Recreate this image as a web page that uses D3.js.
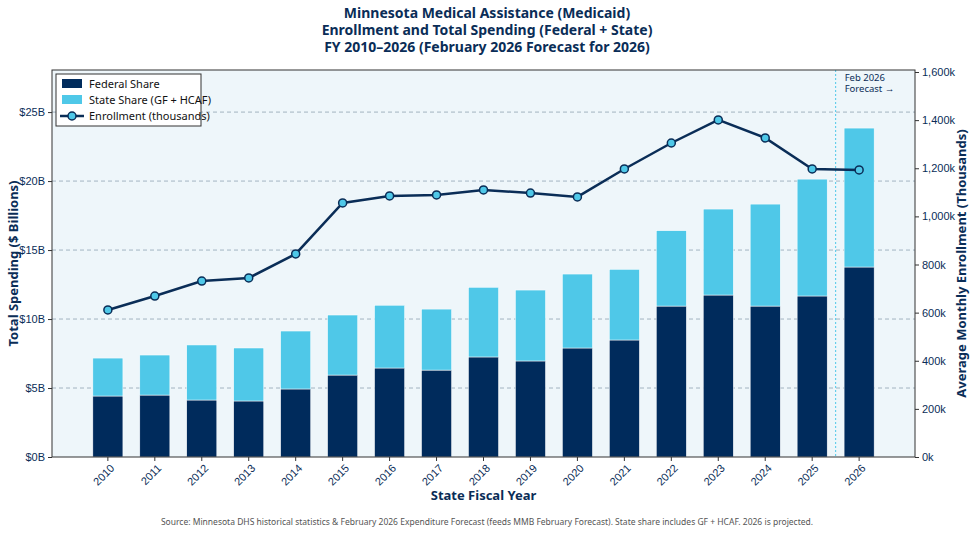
<!DOCTYPE html>
<html>
<head>
<script src="https://cdnjs.cloudflare.com/ajax/libs/d3/7.8.5/d3.min.js"></script>
<style>
  body { margin: 0; background: #fff; font-family: "Source Sans Pro", "Noto Sans", sans-serif; }
  .grid line { stroke: #8fa3b3; stroke-dasharray: 4 3; stroke-width: 0.8; }
  .axis text { fill: #0a2d57; font-size: 11px; }
  .axis path, .axis line { stroke: #333; }
</style>
</head>
<body>
<svg width="975" height="534"></svg>
<script>
var years = ["2010","2011","2012","2013","2014","2015","2016","2017","2018","2019","2020","2021","2022","2023","2024","2025","2026"];
var federal = [4.42,4.49,4.13,4.06,4.93,5.94,6.45,6.30,7.25,6.96,7.90,8.48,10.94,11.74,10.94,11.67,13.77];
var total   = [7.17,7.39,8.12,7.90,9.13,10.29,11.00,10.72,12.30,12.10,13.26,13.60,16.40,17.97,18.33,20.14,23.84];
var enrollment = [611,669,731,744,844,1056,1085,1089,1110,1097,1081,1197,1305,1401,1326,1197,1193];
var leftTicks = [0,5,10,15,20,25];
var rightTicks = [0,200,400,600,800,1000,1200,1400,1600];

var navy = "#002b5c", sky = "#4fc8e8", ink = "#0a2d57";
var svg = d3.select("svg");
var L = 52, R = 915, T = 70, B = 457;

var x = d3.scaleBand().domain(years).range([L, R]).paddingInner(0.36).paddingOuter(0.87);
var y = d3.scaleLinear().domain([0, 28.05]).range([B, T]);
var y2 = d3.scaleLinear().domain([0, 1600]).range([B, 72]);

svg.append("rect").attr("x", L).attr("y", T).attr("width", R - L).attr("height", B - T).attr("fill", "#eef6fa");

svg.append("g").attr("class", "grid").selectAll("line").data(leftTicks.slice(1)).join("line")
  .attr("x1", L).attr("x2", R).attr("y1", d => y(d)).attr("y2", d => y(d));

// bars
var g = svg.append("g");
g.selectAll(".fed").data(years).join("rect")
  .attr("x", d => x(d)).attr("width", x.bandwidth())
  .attr("y", (d, i) => y(federal[i])).attr("height", (d, i) => B - y(federal[i]))
  .attr("fill", navy).attr("stroke", "#fff").attr("stroke-width", 0.5);
g.selectAll(".st").data(years).join("rect")
  .attr("x", d => x(d)).attr("width", x.bandwidth())
  .attr("y", (d, i) => y(total[i])).attr("height", (d, i) => y(federal[i]) - y(total[i]))
  .attr("fill", sky).attr("stroke", "#fff").attr("stroke-width", 0.5);

// forecast divider
var fx = (x("2025") + x.bandwidth() + x("2026")) / 2;
svg.append("line").attr("x1", fx).attr("x2", fx).attr("y1", T).attr("y2", B)
  .attr("stroke", "#4fc8e8").attr("stroke-dasharray", "2 2");
svg.append("text").attr("x", fx + 9).attr("y", 81).attr("fill", ink).attr("font-size", 9.5).text("Feb 2026");
svg.append("text").attr("x", fx + 9).attr("y", 92).attr("fill", ink).attr("font-size", 9.5).text("Forecast →");

// line
var cx = d => x(d) + x.bandwidth() / 2;
svg.append("path").datum(years)
  .attr("d", d3.line().x(cx).y((d, i) => y2(enrollment[i])))
  .attr("fill", "none").attr("stroke", ink).attr("stroke-width", 2.5);
svg.selectAll(".pt").data(years).join("circle")
  .attr("cx", cx).attr("cy", (d, i) => y2(enrollment[i])).attr("r", 4)
  .attr("fill", sky).attr("stroke", ink).attr("stroke-width", 1.5);

svg.append("rect").attr("x", L).attr("y", T).attr("width", R - L).attr("height", B - T)
  .attr("fill", "none").attr("stroke", "#333");

// axes
svg.append("g").attr("class", "axis").attr("transform", `translate(${L},0)`)
  .call(d3.axisLeft(y).tickValues(leftTicks).tickFormat(d => "$" + d + "B").tickSize(4));
svg.append("g").attr("class", "axis").attr("transform", `translate(${R},0)`)
  .call(d3.axisRight(y2).tickValues(rightTicks).tickFormat(d => d3.format(",")(d) + "k").tickSize(4));
svg.append("g").attr("class", "axis").attr("transform", `translate(0,${B})`)
  .call(d3.axisBottom(x).tickSize(4))
  .selectAll("text").attr("text-anchor", "end").attr("dx", "-0.3em").attr("dy", "0.6em")
  .attr("transform", "rotate(-45)");
svg.selectAll(".axis .domain").remove();

// titles
var titles = ["Minnesota Medical Assistance (Medicaid)", "Enrollment and Total Spending (Federal + State)", "FY 2010–2026 (February 2026 Forecast for 2026)"];
svg.selectAll(".title").data(titles).join("text")
  .attr("x", 487).attr("y", (d, i) => 18 + i * 17).attr("text-anchor", "middle")
  .attr("fill", ink).attr("font-size", 14).attr("font-weight", "bold").text(d => d);

svg.append("text").attr("x", (L + R) / 2).attr("y", 500).attr("text-anchor", "middle")
  .attr("fill", ink).attr("font-size", 13).attr("font-weight", "bold").text("State Fiscal Year");
svg.append("text").attr("transform", `translate(18,${(T + B) / 2}) rotate(-90)`).attr("text-anchor", "middle")
  .attr("fill", ink).attr("font-size", 13).attr("font-weight", "bold").text("Total Spending ($ Billions)");
svg.append("text").attr("transform", `translate(966,${(T + B) / 2}) rotate(-90)`).attr("text-anchor", "middle")
  .attr("fill", ink).attr("font-size", 13).attr("font-weight", "bold").text("Average Monthly Enrollment (Thousands)");
svg.append("text").attr("x", 487).attr("y", 525).attr("text-anchor", "middle")
  .attr("fill", "#555").attr("font-size", 8.5)
  .text("Source: Minnesota DHS historical statistics & February 2026 Expenditure Forecast (feeds MMB February Forecast). State share includes GF + HCAF. 2026 is projected.");

// legend
var lg = svg.append("g").attr("transform", "translate(56,74)");
lg.append("rect").attr("width", 145).attr("height", 52).attr("fill", "#fff").attr("stroke", "#333");
var items = ["Federal Share", "State Share (GF + HCAF)", "Enrollment (thousands)"];
items.forEach((t, i) => {
  var yy = 10 + i * 16;
  if (i < 2) lg.append("rect").attr("x", 6).attr("y", yy - 5).attr("width", 20).attr("height", 9).attr("fill", i ? sky : navy);
  else {
    lg.append("line").attr("x1", 4).attr("x2", 28).attr("y1", yy).attr("y2", yy).attr("stroke", ink).attr("stroke-width", 2.5);
    lg.append("circle").attr("cx", 16).attr("cy", yy).attr("r", 4).attr("fill", sky).attr("stroke", ink).attr("stroke-width", 1.5);
  }
  lg.append("text").attr("x", 33).attr("y", yy + 4).attr("font-size", 11).attr("fill", "#111").text(t);
});
</script>
</body>
</html>
